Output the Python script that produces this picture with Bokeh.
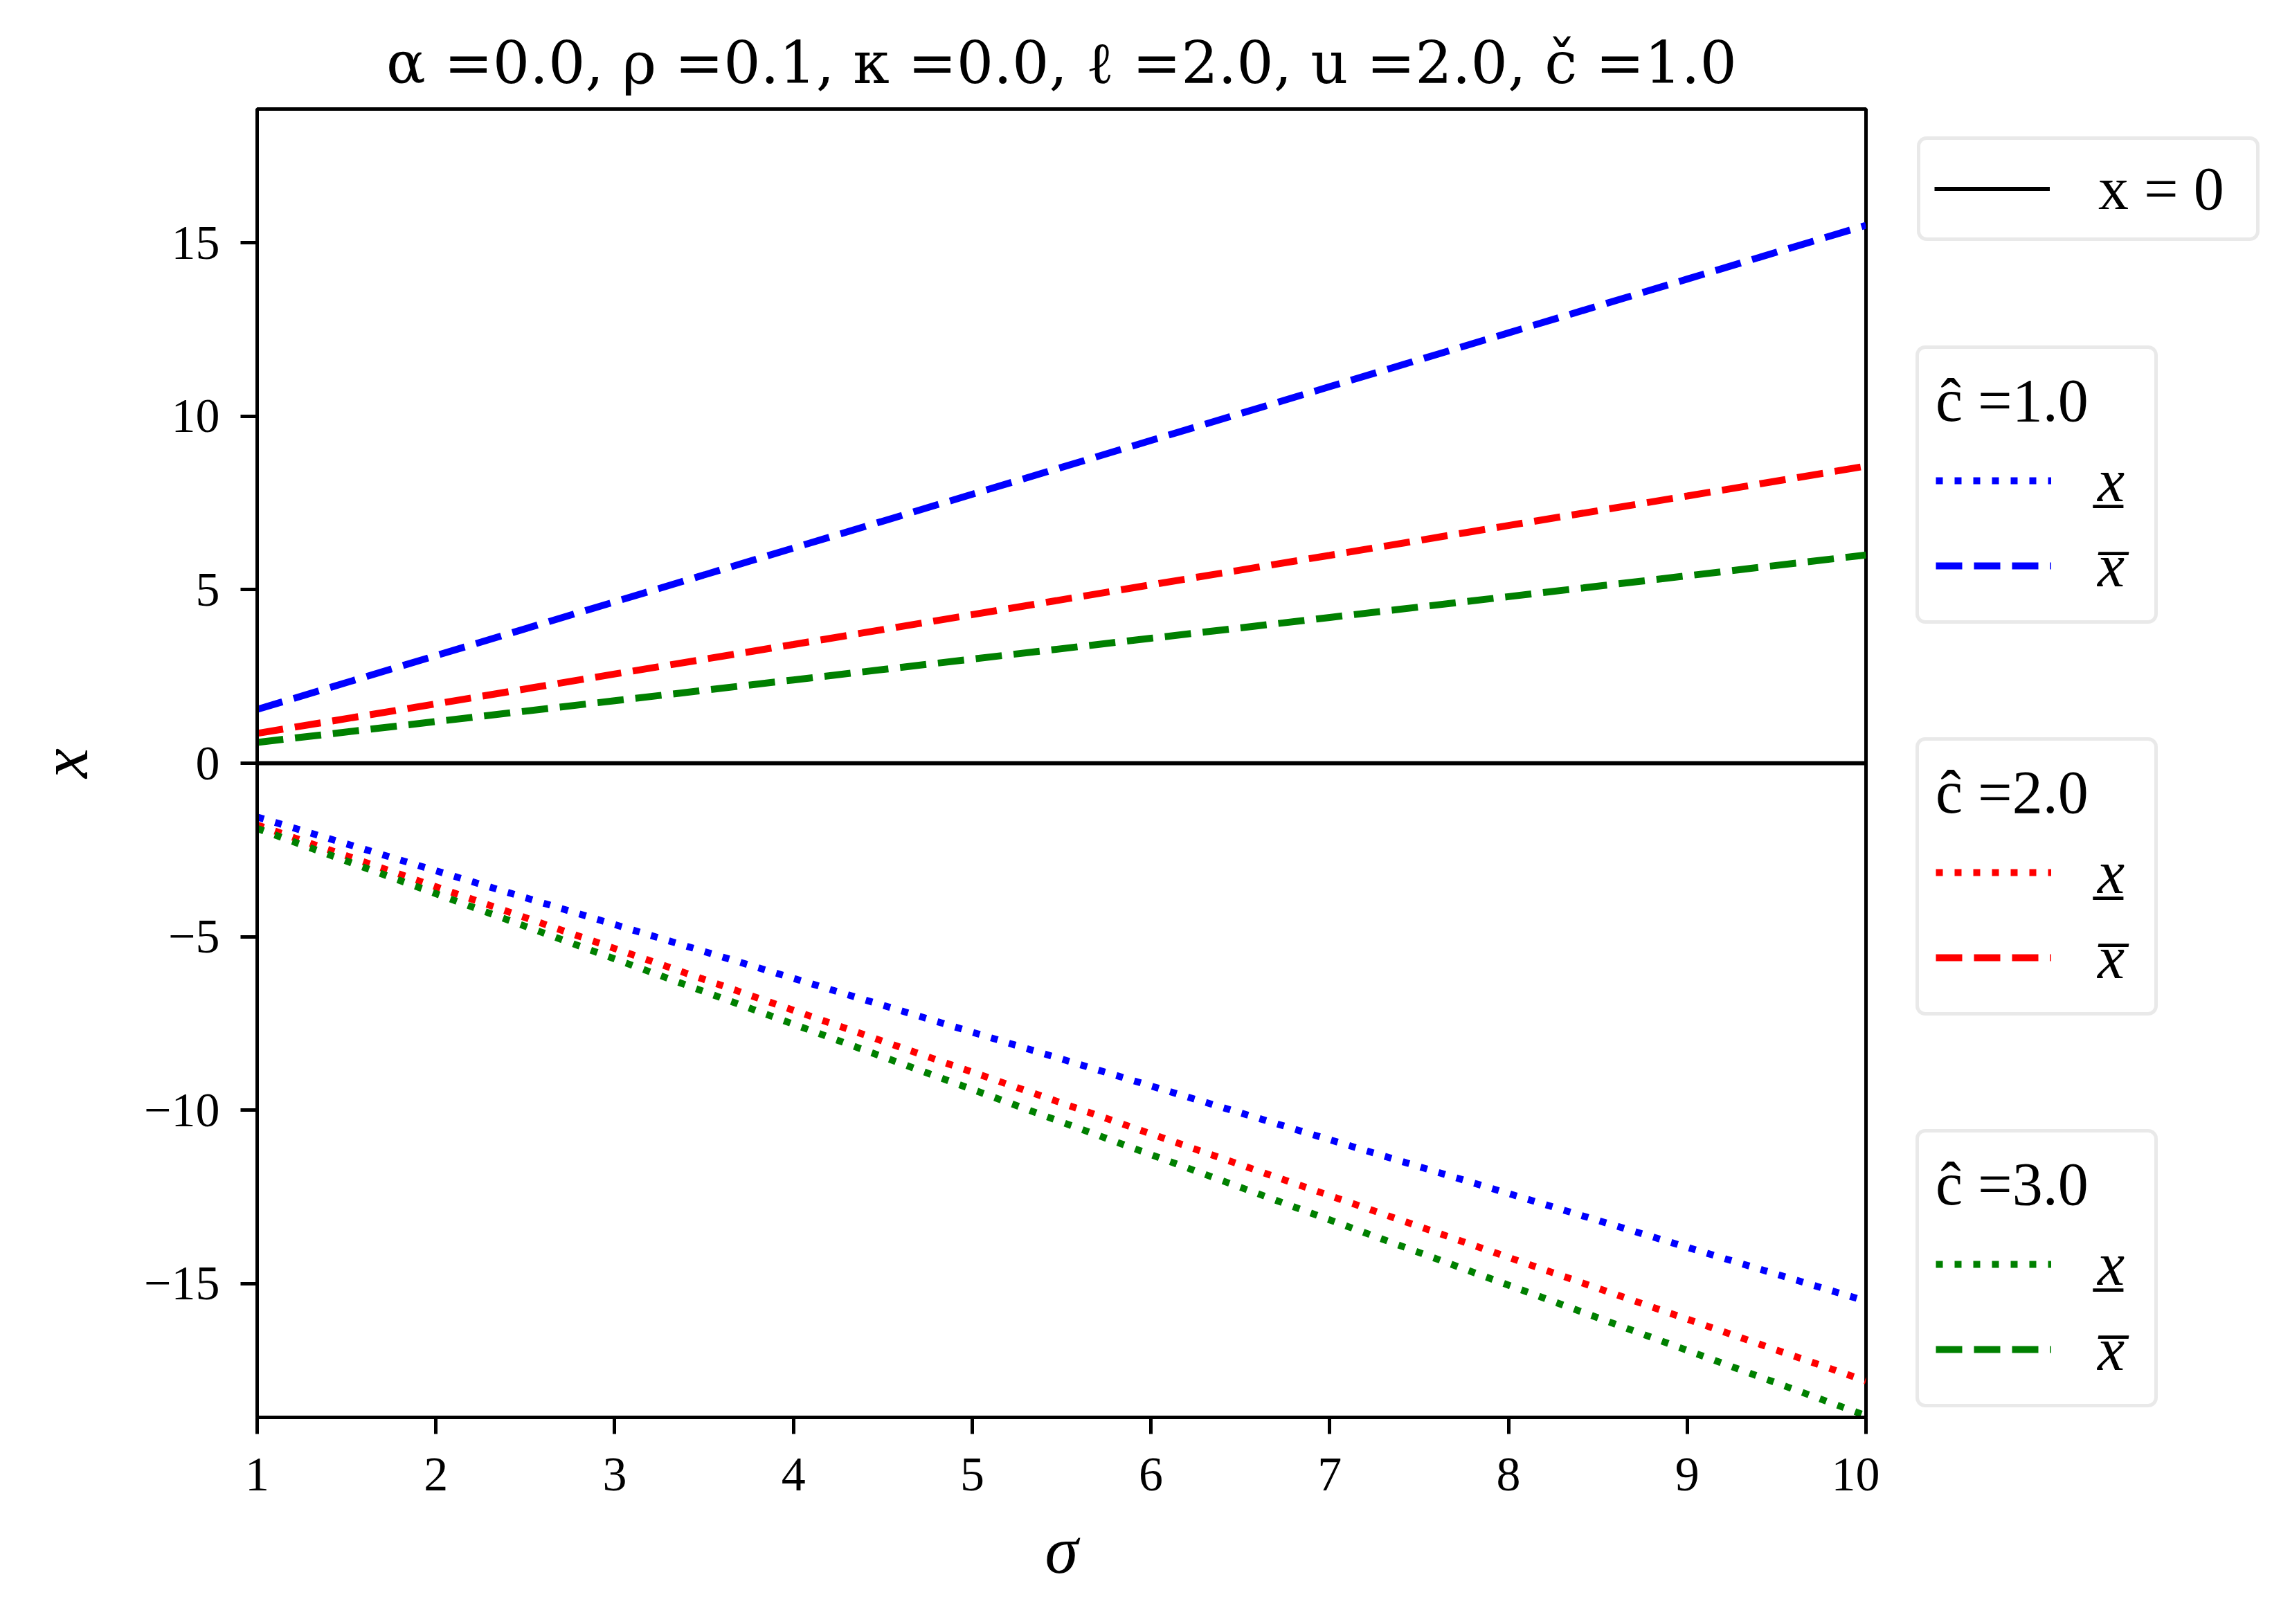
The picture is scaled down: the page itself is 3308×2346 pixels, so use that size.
from bokeh.plotting import figure
from bokeh.layouts import row
from bokeh.models import Legend, LegendItem, FixedTicker, Range1d
from bokeh.embed import file_html
from bokeh.resources import INLINE

# ---- data ----
sigma = [1, 2, 3, 4, 5, 6, 7, 8, 9, 10]
zero_level = [0.0, 0.0, 0.0, 0.0, 0.0, 0.0, 0.0, 0.0, 0.0, 0.0]

# c_hat = 1.0 (blue)
lower_c1 = [-1.55, -3.10, -4.65, -6.20, -7.75, -9.30, -10.85, -12.40, -13.95, -15.50]
upper_c1 = [1.55, 3.10, 4.65, 6.20, 7.75, 9.30, 10.85, 12.40, 13.95, 15.50]
# c_hat = 2.0 (red)
lower_c2 = [-1.78, -3.56, -5.34, -7.12, -8.90, -10.68, -12.46, -14.24, -16.02, -17.80]
upper_c2 = [0.86, 1.71, 2.57, 3.42, 4.28, 5.14, 5.99, 6.85, 7.70, 8.56]
# c_hat = 3.0 (green)
lower_c3 = [-1.88, -3.76, -5.64, -7.52, -9.40, -11.28, -13.16, -15.04, -16.92, -18.80]
upper_c3 = [0.60, 1.20, 1.80, 2.40, 3.00, 3.60, 4.20, 4.80, 5.40, 6.00]

x_ticks = [1, 2, 3, 4, 5, 6, 7, 8, 9, 10]
y_ticks = [-15, -10, -5, 0, 5, 10, 15]
title_text = "α =0.0, ρ =0.1, κ =0.0, ℓ =2.0, u =2.0, č =1.0"
legend_titles = ["ĉ =1.0", "ĉ =2.0", "ĉ =3.0"]
lower_label = "x\u0332"
upper_label = "x\u0305"
zero_label = "x = 0"

FONT = "Liberation Serif"
TITLE_FONT = "DejaVu Serif"

MAIN_W = 2715
SIDE_W = 585
H = 2340

p = figure(width=MAIN_W, height=H, output_backend="svg", toolbar_location=None,
           x_range=Range1d(1, 10), y_range=Range1d(-18.85, 18.85))
p.min_border_left = 371
p.min_border_right = MAIN_W - 371 - 2324
p.min_border_top = 157
p.min_border_bottom = H - 157 - 1890
p.background_fill_color = "white"
p.border_fill_color = "white"
p.grid.visible = False
p.outline_line_color = "black"
p.outline_line_width = 5

p.title.text = title_text
p.title.align = "center"
p.title.text_font = TITLE_FONT
p.title.text_font_size = "84px"
p.title.text_font_style = "normal"
p.title.text_color = "black"
p.title.standoff = 36

for ax in (p.xaxis[0], p.yaxis[0]):
    ax.axis_line_width = 5
    ax.axis_line_color = "black"
    ax.major_tick_line_width = 5
    ax.major_tick_line_color = "black"
    ax.major_tick_out = 24
    ax.major_tick_in = 0
    ax.minor_tick_line_color = None
    ax.major_label_text_font = FONT
    ax.major_label_text_font_size = "70px"
    ax.major_label_text_color = "black"
    ax.axis_label_text_font = FONT
    ax.axis_label_text_font_size = "97px"
    ax.axis_label_text_font_style = "italic"
    ax.axis_label_text_color = "black"

p.xaxis.ticker = FixedTicker(ticks=x_ticks)
p.yaxis.ticker = FixedTicker(ticks=y_ticks)
p.yaxis.major_label_overrides = {t: ("−" + str(-t)) for t in y_ticks if t < 0}
p.xaxis.axis_label = "σ"
p.yaxis.axis_label = "x"
p.xaxis.major_label_standoff = 35
p.xaxis.axis_label_standoff = 30
p.yaxis.major_label_standoff = 30
p.yaxis.axis_label_standoff = 58

LW = 10
DOT = "10 17"
DASH = "38 17"

p.line(sigma, zero_level, line_color="black", line_width=6)

series = [
    ("#0000ff", lower_c1, upper_c1),
    ("#ff0000", lower_c2, upper_c2),
    ("#008000", lower_c3, upper_c3),
]
for color, lo, up in series:
    p.line(sigma, lo, line_color=color, line_width=LW, line_dash=DOT)
    p.line(sigma, up, line_color=color, line_width=LW, line_dash=DASH)

# ---- side panel holding the legends (same series, drawn outside its view) ----
side = figure(width=SIDE_W, height=H, output_backend="svg", toolbar_location=None,
              x_range=Range1d(-3, -2), y_range=Range1d(100, 101),
              x_axis_type=None, y_axis_type=None)
side.min_border = 0
side.outline_line_color = None
side.background_fill_color = "white"
side.border_fill_color = "white"

s_zero = side.line(sigma, zero_level, line_color="black", line_width=6)
pairs = []
for color, lo, up in series:
    rl = side.line(sigma, lo, line_color=color, line_width=LW, line_dash=DOT)
    ru = side.line(sigma, up, line_color=color, line_width=LW, line_dash=DASH)
    pairs.append((rl, ru))


def style_legend(lg):
    lg.border_line_color = "#d3d3d3"
    lg.border_line_width = 5
    lg.background_fill_color = "white"
    lg.background_fill_alpha = 0.8
    lg.margin = 0
    lg.padding = 24
    lg.glyph_width = 167
    lg.label_text_font = FONT
    lg.label_text_font_size = "88px"
    lg.label_text_color = "black"
    lg.title_text_font = FONT
    lg.title_text_font_size = "88px"
    lg.title_text_font_style = "normal"
    lg.title_text_color = "black"
    if "border_radius" in Legend.properties():
        lg.border_radius = 14


# legend locations: bottom-left corner, relative to the shared frame bottom
lg0 = Legend(items=[LegendItem(label=zero_label, renderers=[s_zero])],
             location=(54, 1699))
style_legend(lg0)
lg0.padding = 20
lg0.glyph_height = 87
lg0.label_height = 87
lg0.label_standoff = 70
lg0.label_width = 208
lg0.label_text_font_style = "normal"
side.add_layout(lg0)

locs_y = [1146, 580, 14]
for (rl, ru), ttl, ly in zip(pairs, legend_titles, locs_y):
    lg = Legend(items=[LegendItem(label=lower_label, renderers=[rl]),
                       LegendItem(label=upper_label, renderers=[ru])],
                location=(52, ly), title=ttl)
    style_legend(lg)
    lg.glyph_height = 110
    lg.label_height = 110
    lg.spacing = 13
    lg.title_standoff = 10
    lg.label_standoff = 67
    lg.label_width = 58
    lg.label_text_font_style = "italic"
    side.add_layout(lg)

layout = row(p, side)
open("out.html", "w").write(file_html(layout, INLINE))
